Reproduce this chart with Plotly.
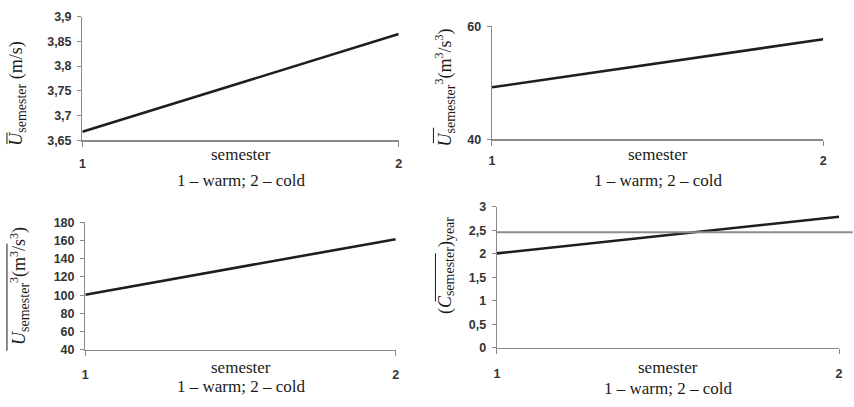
import plotly.graph_objects as go

W, H = 854, 407

# ---- data ----
semesters = [1, 2]
u_mean = [3.667, 3.865]          # mean wind speed per semester (m/s)
u_mean_cubed = [49.2, 57.7]      # (mean U)^3  (m3/s3)
u_cubed_mean = [100.5, 161.5]    # mean of U^3 (m3/s3)
c_factor = [2.01, 2.79]          # (C_semester)_year
c_year = 2.46                    # annual value (horizontal reference)

y1_ticks = [3.65, 3.7, 3.75, 3.8, 3.85, 3.9]
y1_labels = ["3,65", "3,7", "3,75", "3,8", "3,85", "3,9"]
y2_ticks = [40, 60]
y2_labels = ["40", "60"]
y3_ticks = [40, 60, 80, 100, 120, 140, 160, 180]
y3_labels = [str(v) for v in y3_ticks]
y4_ticks = [0, 0.5, 1, 1.5, 2, 2.5, 3]
y4_labels = ["0", "0,5", "1", "1,5", "2", "2,5", "3"]
x_labels = ["1", "2"]


def px(x):
    return x / W


def py(y):
    return 1 - y / H


LINE = dict(color="#1e1e1e", width=2.6)
AXC = "#8a8a8a"
TICKFONT = dict(family="Liberation Sans", size=12.5, color="#333333", weight="bold")
SERIF = "Liberation Serif"

fig = go.Figure()
fig.add_trace(go.Scatter(x=semesters, y=u_mean, mode="lines", line=LINE, xaxis="x", yaxis="y", showlegend=False))
fig.add_trace(go.Scatter(x=semesters, y=u_mean_cubed, mode="lines", line=LINE, xaxis="x2", yaxis="y2", showlegend=False))
fig.add_trace(go.Scatter(x=semesters, y=u_cubed_mean, mode="lines", line=LINE, xaxis="x3", yaxis="y3", showlegend=False))
fig.add_trace(go.Scatter(x=semesters, y=c_factor, mode="lines", line=LINE, xaxis="x4", yaxis="y4", showlegend=False))

domains = {
    1: ([px(80), px(399)], [py(138), py(10)]),
    2: ([px(493), px(827)], [py(137), py(20)]),
    3: ([px(83), px(396)], [py(355), py(223)]),
    4: ([px(498), px(843)], [py(353), py(207)]),
}
yspecs = {
    1: ([3.65, 3.9], y1_ticks, y1_labels),
    2: ([40, 60], y2_ticks, y2_labels),
    3: ([40, 180], y3_ticks, y3_labels),
    4: ([0, 3], y4_ticks, y4_labels),
}
xstandoff = {1: 6, 2: 4, 3: 8, 4: 9}

layout = dict(
    width=W, height=H,
    margin=dict(l=0, r=0, t=0, b=0),
    paper_bgcolor="white", plot_bgcolor="white",
    showlegend=False,
)
for i in range(1, 5):
    xs = "" if i == 1 else str(i)
    xd, yd = domains[i]
    yr, yt, yl = yspecs[i]
    layout["xaxis" + xs] = dict(
        domain=xd, anchor="y" + xs, range=[1, 2],
        tickmode="array", tickvals=semesters, ticktext=x_labels,
        ticks="outside", ticklen=5, tickcolor=AXC, tickwidth=1,
        showline=True, linecolor=AXC, linewidth=1.3, ticklabelstandoff=xstandoff[i],
        showgrid=False, zeroline=False, tickfont=TICKFONT, fixedrange=True,
    )
    layout["yaxis" + xs] = dict(
        domain=yd, anchor="x" + xs, range=yr,
        tickmode="array", tickvals=yt, ticktext=yl,
        ticks="outside", ticklen=4, tickcolor=AXC, tickwidth=1,
        showline=True, linecolor=AXC, linewidth=1.3, ticklabelstandoff=3,
        showgrid=False, zeroline=False, tickfont=TICKFONT, fixedrange=True,
    )
fig.update_layout(**layout)

# annual reference line in panel 4 (extends a bit past the axis end)
fig.add_shape(type="line", xref="x4 domain", yref="y4", x0=0, x1=1.04,
              y0=c_year, y1=c_year, line=dict(color="#8c8c8c", width=1.8))

ann = []
SUBSPAN = '<sub><span style="font-size:14px">%s</span></sub>'
SUPSPAN = '<sup><span style="font-size:12px">%s</span></sup>'


def add_text(cx, cy, text, size, angle=0):
    ann.append(dict(x=px(cx), y=py(cy), xref="paper", yref="paper", text=text,
                    xanchor="center", yanchor="middle", textangle=angle,
                    showarrow=False, font=dict(family=SERIF, size=size, color="#1a1a1a")))


def xlab(cx, y_sem, y_warm):
    add_text(cx, y_sem, "semester", 17)
    add_text(cx, y_warm, "1 – warm; 2 – cold", 17)


xlab(240, 153, 180)
xlab(660, 153, 180)
xlab(240, 373, 393)
xlab(670, 373, 395)

t1 = "<i>U</i>" + SUBSPAN % "semester" + " (m/s)"
t2 = "<i>U</i>" + SUBSPAN % "semester" + SUPSPAN % "3" + "(m" + SUPSPAN % "3" + "/s" + SUPSPAN % "3" + ")"
t4 = "(<i>C</i>" + SUBSPAN % "semester" + ")" + SUBSPAN % "year"
for (cx, cy, t) in [(15, 90, t1), (445, 83, t2), (16, 289, t2), (447, 268, t4)]:
    add_text(cx, cy, t, 18, -90)
fig.update_layout(annotations=ann)

# overlines (typographic decoration of the axis titles)
for (x, y0, y1) in [(4, 130, 142), (434, 125, 141), (4, 245, 356), (436, 255, 305)]:
    fig.add_shape(type="line", xref="paper", yref="paper", x0=px(x), x1=px(x),
                  y0=py(y0), y1=py(y1), line=dict(color="#1a1a1a", width=1))

fig.write_html("out.html", config={"displayModeBar": False, "staticPlot": True},
               post_script="document.body.style.margin='0';document.body.style.padding='0';")
